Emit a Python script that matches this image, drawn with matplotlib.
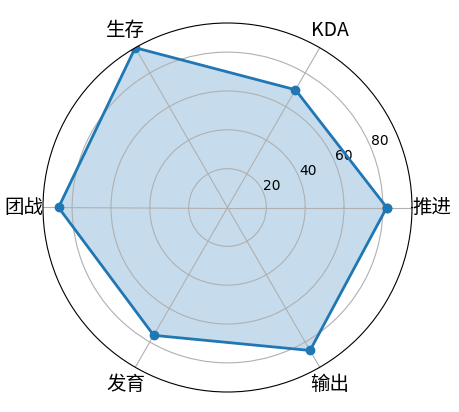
import numpy as np
import matplotlib
matplotlib.use("Agg")
import matplotlib.pyplot as plt

plt.rcParams['font.family'] = ['Noto Sans CJK SC', 'DejaVu Sans']

categories = ['推进', 'KDA', '生存', '团战', '发育', '输出']
values = [82, 70, 95, 87, 76, 85]

n = len(categories)
angles = np.linspace(0, 2 * np.pi, n, endpoint=False).tolist()
vals = values + values[:1]
angs = angles + angles[:1]

fig = plt.figure(figsize=(4.59, 4.12), dpi=100)
ax = fig.add_axes([43 / 459, 20 / 412, 369 / 459, 369 / 412], projection='polar')
ax.plot(angs, vals, 'o-', linewidth=2, color='#1f77b4', markersize=6)
ax.fill(angs, vals, alpha=0.25, color='#1f77b4')
ax.set_thetagrids(np.degrees(angles), categories, fontsize=14)
ax.set_rticks([20, 40, 60, 80])
ax.tick_params(axis='y', labelsize=10)
ax.set_ylim(0, 95)
ax.grid(True)
for lab in ax.get_yticklabels():
    lab.set_family('DejaVu Sans')
fig.savefig('out.png', dpi=100)
